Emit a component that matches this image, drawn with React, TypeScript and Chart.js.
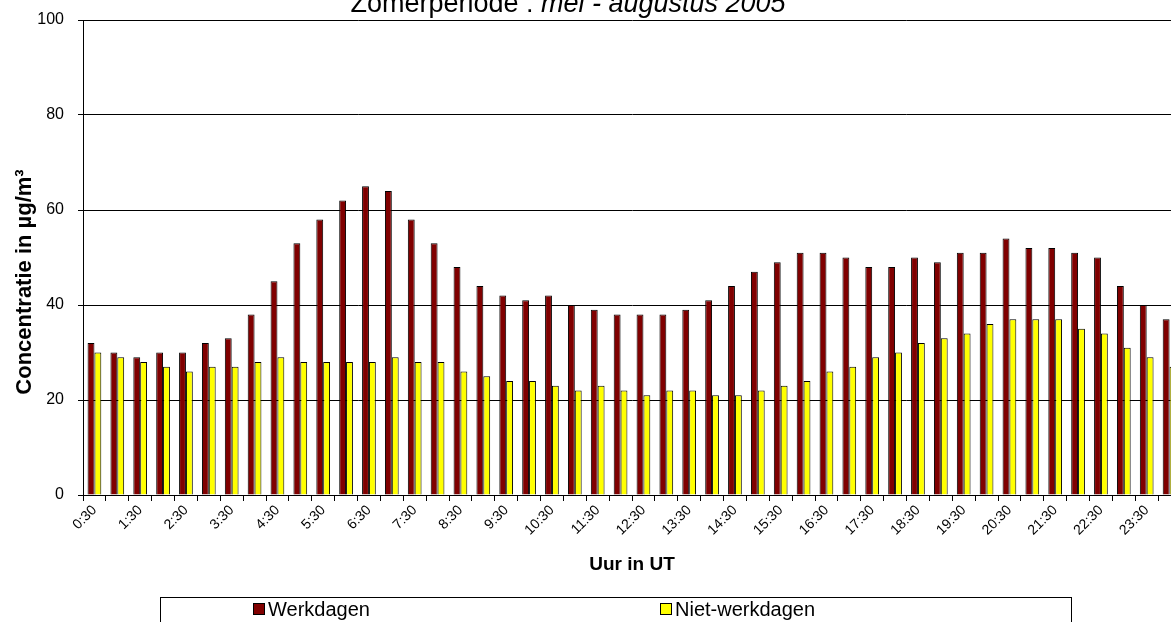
import React, { useEffect, useRef } from "react";
import { Chart, registerables } from "chart.js";

Chart.register(...registerables);

const categories = [
  "0:30", "1:00", "1:30", "2:00", "2:30", "3:00", "3:30", "4:00", "4:30", "5:00", "5:30", "6:00",
  "6:30", "7:00", "7:30", "8:00", "8:30", "9:00", "9:30", "10:00", "10:30", "11:00", "11:30", "12:00",
  "12:30", "13:00", "13:30", "14:00", "14:30", "15:00", "15:30", "16:00", "16:30", "17:00", "17:30", "18:00",
  "18:30", "19:00", "19:30", "20:00", "20:30", "21:00", "21:30", "22:00", "22:30", "23:00", "23:30", "24:00",
];

const werkdagen = [
  32, 30, 29, 30, 30, 32, 33, 38, 45, 53, 58, 62,
  65, 64, 58, 53, 48, 44, 42, 41, 42, 40, 39, 38,
  38, 38, 39, 41, 44, 47, 49, 51, 51, 50, 48, 48,
  50, 49, 51, 51, 54, 52, 52, 51, 50, 44, 40, 37,
];

const nietWerkdagen = [
  30, 29, 28, 27, 26, 27, 27, 28, 29, 28, 28, 28,
  28, 29, 28, 28, 26, 25, 24, 24, 23, 22, 23, 22,
  21, 22, 22, 21, 21, 22, 23, 24, 26, 27, 29, 30,
  32, 33, 34, 36, 37, 37, 37, 35, 34, 31, 29, 27,
];

const seriesLabels = ["Werkdagen", "Niet-werkdagen"];
const seriesColors = ["#800000", "#FFFF00"];
const yTicks = [0, 20, 40, 60, 80, 100];

const titleMain = "Zomerperiode : ";
const titleItalic = "mei - augustus 2005";
const yTitle = "Concentratie in µg/m³";
const xTitle = "Uur in UT";

const FF = "'Liberation Sans', Arial, Helvetica, sans-serif";
const CANVAS_W = 1185;
const CANVAS_H = 622;

const decorPlugin = {
  id: "decor",
  afterDraw(chart: any) {
    const ctx = chart.ctx as CanvasRenderingContext2D;
    ctx.save();
    ctx.fillStyle = "#000";

    // Title (mixed normal / italic)
    ctx.textBaseline = "alphabetic";
    ctx.textAlign = "left";
    ctx.font = `27px ${FF}`;
    const w1 = ctx.measureText(titleMain).width;
    ctx.font = `italic 27px ${FF}`;
    const w2 = ctx.measureText(titleItalic).width;
    const startX = 568 - (w1 + w2) / 2;
    ctx.font = `27px ${FF}`;
    ctx.fillText(titleMain, startX, 12);
    ctx.font = `italic 27px ${FF}`;
    ctx.fillText(titleItalic, startX + w1, 12);

    // Y axis title
    ctx.save();
    ctx.translate(25, 282);
    ctx.rotate(-Math.PI / 2);
    ctx.textAlign = "center";
    ctx.textBaseline = "middle";
    ctx.font = `bold 22px ${FF}`;
    ctx.fillText(yTitle, 0, 0);
    ctx.restore();

    // Legend box
    ctx.strokeStyle = "#000";
    ctx.lineWidth = 1;
    ctx.strokeRect(160.5, 597.5, 911, 40);
    const items = chart.data.datasets;
    const xs = [253, 660];
    ctx.font = `20px ${FF}`;
    ctx.textBaseline = "middle";
    ctx.textAlign = "left";
    items.forEach((ds: any, i: number) => {
      const x = xs[i];
      ctx.fillStyle = ds.backgroundColor;
      ctx.fillRect(x + 0.5, 603.5, 11, 11);
      ctx.strokeStyle = "#000";
      ctx.strokeRect(x + 0.5, 603.5, 11, 11);
      ctx.fillStyle = "#000";
      ctx.fillText(ds.label, x + 15, 610);
    });
    ctx.restore();
  },
};

export default function App() {
  const canvasRef = useRef<HTMLCanvasElement | null>(null);

  useEffect(() => {
    const canvas = canvasRef.current;
    if (!canvas) return;
    const chart = new Chart(canvas, {
      type: "bar",
      data: {
        labels: categories,
        datasets: [
          {
            label: seriesLabels[0],
            data: werkdagen,
            backgroundColor: seriesColors[0],
            borderColor: "#000",
            borderWidth: 1,
            categoryPercentage: 0.6,
            barPercentage: 1.0,
          },
          {
            label: seriesLabels[1],
            data: nietWerkdagen,
            backgroundColor: seriesColors[1],
            borderColor: "#000",
            borderWidth: 1,
            categoryPercentage: 0.6,
            barPercentage: 1.0,
          },
        ],
      },
      options: {
        responsive: false,
        animation: false,
        devicePixelRatio: 1,
        layout: { padding: { left: 0, top: 20, right: CANVAS_W - 1181, bottom: 45 } },
        plugins: {
          legend: { display: false },
          title: { display: false },
          tooltip: { enabled: false },
        },
        scales: {
          x: {
            grid: {
              display: true,
              drawOnChartArea: false,
              drawTicks: true,
              tickLength: 6,
              color: "#000",
              offset: true,
            },
            border: { display: true, color: "#000", width: 1 },
            ticks: {
              autoSkip: false,
              minRotation: 45,
              maxRotation: 45,
              padding: 1,
              color: "#000",
              font: { family: FF, size: 14 },
              callback: (_v: any, i: number) => (i % 2 === 0 ? categories[i] : ""),
            },
            title: {
              display: true,
              text: xTitle,
              color: "#000",
              font: { family: FF, size: 19, weight: "bold" },
              padding: { top: 0, bottom: 1 },
            },
            afterFit: (scale: any) => {
              scale.height = 82;
            },
          },
          y: {
            min: 0,
            max: 100,
            afterBuildTicks: (scale: any) => {
              scale.ticks = yTicks.map((v) => ({ value: v }));
            },
            grid: {
              color: "#000",
              lineWidth: 1,
              drawTicks: true,
              tickLength: 5,
            },
            border: { display: true, color: "#000", width: 1 },
            ticks: {
              color: "#000",
              padding: 14,
              font: { family: FF, size: 16, lineHeight: 0.75 },
            },
            afterFit: (scale: any) => {
              scale.width = 83;
            },
          },
        },
      },
      plugins: [decorPlugin],
    });
    return () => chart.destroy();
  }, []);

  return (
    <div
      style={{
        position: "fixed",
        left: 0,
        top: 0,
        width: 1171,
        height: 622,
        overflow: "hidden",
        background: "#fff",
      }}
    >
      <canvas
        ref={canvasRef}
        width={CANVAS_W}
        height={CANVAS_H}
        style={{ position: "absolute", left: 0, top: 0, width: CANVAS_W, height: CANVAS_H }}
      />
    </div>
  );
}
